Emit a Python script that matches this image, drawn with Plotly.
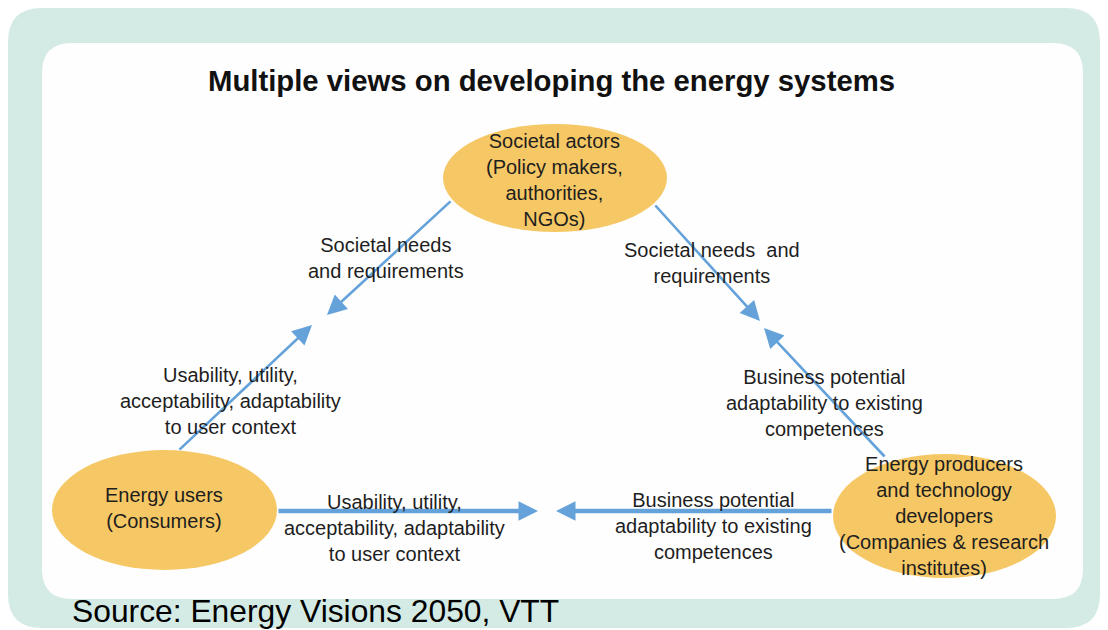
import plotly.graph_objects as go

# Diagram content

title_text = "Multiple views on developing the energy systems"
source_text = "Source: Energy Visions 2050, VTT"

node_labels = [
    "Societal actors<br>(Policy makers,<br>authorities,<br>NGOs)",
    "Energy users<br>(Consumers)",
    "Energy producers<br>and technology<br>developers<br>(Companies & research<br>institutes)",
]

edge_labels = [
    "Societal needs<br>and requirements",
    "Societal needs  and<br>requirements",
    "Usability, utility,<br>acceptability, adaptability<br>to user context",
    "Business potential<br>adaptability to existing<br>competences",
    "Usability, utility,<br>acceptability, adaptability<br>to user context",
    "Business potential<br>adaptability to existing<br>competences",
]

# Layout (pixel space of the page, y pointing down).
# The page body has an 8px margin, so the figure is 8px smaller and the
# axis ranges start at 8 to keep the coordinates in page pixels.

W, H = 1108, 630
PAD = 8
FONT = "Liberation Sans, Arial, sans-serif"
TEXT_COLOR = "#1e1e1e"
ARROW_COLOR = "#65a2da"
NODE_COLOR = "#f6c865"

node_boxes = [
    (443, 124, 667, 232),
    (52, 450, 277, 570),
    (833, 454, 1056, 578),
]
node_text_pos = [(554, 180), (164, 508), (944, 516)]

edge_text_pos = [(386, 258), (712, 263), (230, 401), (824, 403), (394, 528), (713, 526)]

# tail -> tip, line width
arrows = [
    ((452, 200), (327, 315), 2.6),
    ((178, 451), (312, 325), 2.6),
    ((654, 204), (760, 321), 2.6),
    ((886, 458), (764, 328), 2.6),
    ((277, 511), (538, 511), 4.5),
    ((833, 511), (556, 511), 4.5),
]


def rounded_rect(x0, y0, x1, y1, r):
    return (
        f"M{x0 + r},{y0} L{x1 - r},{y0} Q{x1},{y0} {x1},{y0 + r} "
        f"L{x1},{y1 - r} Q{x1},{y1} {x1 - r},{y1} "
        f"L{x0 + r},{y1} Q{x0},{y1} {x0},{y1 - r} "
        f"L{x0},{y0 + r} Q{x0},{y0} {x0 + r},{y0} Z"
    )


fig = go.Figure()

shapes = [
    dict(
        type="path",
        path=rounded_rect(8, 8, 1100, 628, 34),
        fillcolor="#d4ebe5",
        line=dict(width=0),
        layer="below",
    ),
    dict(
        type="path",
        path=rounded_rect(42, 43, 1083, 599, 30),
        fillcolor="#fefefe",
        line=dict(width=0),
        layer="below",
    ),
]

for x0, y0, x1, y1 in node_boxes:
    shapes.append(
        dict(
            type="circle",
            x0=x0,
            y0=y0,
            x1=x1,
            y1=y1,
            fillcolor=NODE_COLOR,
            line=dict(width=0),
            layer="below",
        )
    )

annotations = []

for (tail, tip, lw) in arrows:
    annotations.append(
        dict(
            x=tip[0],
            y=tip[1],
            ax=tail[0],
            ay=tail[1],
            xref="x",
            yref="y",
            axref="x",
            ayref="y",
            text="",
            showarrow=True,
            arrowhead=2,
            arrowsize=3.9 / lw,
            arrowwidth=lw,
            arrowcolor=ARROW_COLOR,
            standoff=0,
        )
    )

for label, (x, y) in zip(node_labels + edge_labels, node_text_pos + edge_text_pos):
    annotations.append(
        dict(
            x=x,
            y=y,
            xref="x",
            yref="y",
            text=label,
            showarrow=False,
            align="center",
            xanchor="center",
            yanchor="middle",
            font=dict(family=FONT, size=20, color=TEXT_COLOR),
        )
    )

annotations.append(
    dict(
        x=551,
        y=80,
        xref="x",
        yref="y",
        text=f"<b>{title_text}</b>",
        showarrow=False,
        xanchor="center",
        yanchor="middle",
        font=dict(family=FONT, size=29.3, color="#111111"),
    )
)

annotations.append(
    dict(
        x=70,
        y=611,
        xref="x",
        yref="y",
        text=source_text,
        showarrow=False,
        xanchor="left",
        yanchor="middle",
        font=dict(family=FONT, size=31.8, color="#000000"),
    )
)

fig.update_layout(
    width=W - PAD,
    height=H - PAD,
    margin=dict(l=0, r=0, t=0, b=0),
    paper_bgcolor="#ffffff",
    plot_bgcolor="#ffffff",
    showlegend=False,
    xaxis=dict(range=[PAD, W], visible=False, fixedrange=True),
    yaxis=dict(range=[H, PAD], visible=False, fixedrange=True),
    shapes=shapes,
    annotations=annotations,
)

fig.write_html("out.html")
